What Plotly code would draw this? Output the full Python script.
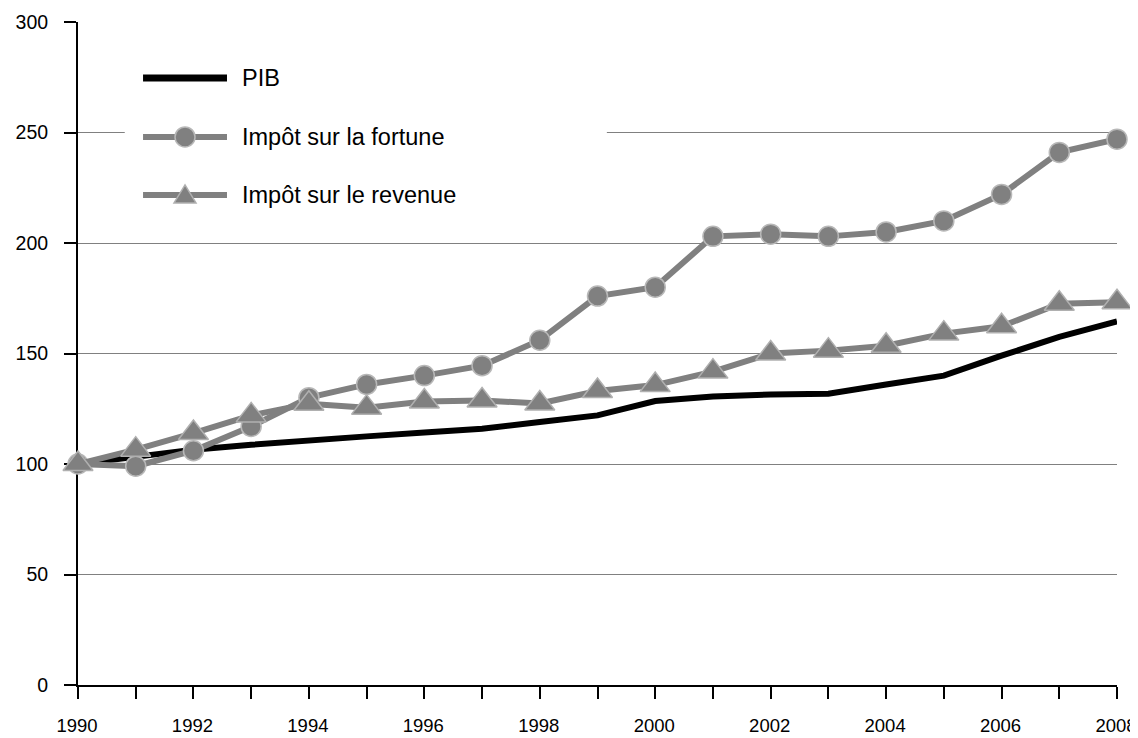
import plotly.graph_objects as go

# ---- data ----
years = list(range(1990, 2009))
year_labels = [str(y) if y % 2 == 0 else "" for y in years]
pib = [100, 103.5, 106.5, 108.7, 110.8, 112.5, 114.3, 116, 119, 122,
       128.5, 130.5, 131.5, 131.8, 136, 140, 149, 157.5, 164.5]
impot_fortune = [100, 99, 106, 117, 130, 136, 140, 144.5, 156, 176,
                 180, 203, 204, 203, 205, 210, 222, 241, 247]
impot_revenu = [100, 106.5, 114, 122, 127.3, 125.5, 128.3, 128.7, 127.4, 133,
                135.7, 141.8, 150, 151.3, 153.5, 159, 162.3, 172.5, 173.2]
y_ticks = [0, 50, 100, 150, 200, 250, 300]
series_names = ["PIB", "Impôt sur la fortune", "Impôt sur le revenue"]

GREY = "#808080"
FONT = "Liberation Sans, Arial, Helvetica, sans-serif"

fig = go.Figure()
fig.add_trace(go.Scatter(x=years, y=pib, name=series_names[0], mode="lines",
                         line=dict(color="black", width=6), cliponaxis=False,
                         showlegend=False))
fig.add_trace(go.Scatter(x=years, y=impot_fortune, name=series_names[1],
                         mode="lines+markers",
                         line=dict(color=GREY, width=6),
                         marker=dict(symbol="circle", size=20, color=GREY,
                                     line=dict(color="#b8b8b8", width=1.5)),
                         cliponaxis=False, showlegend=False))
fig.add_trace(go.Scatter(x=years, y=impot_revenu, name=series_names[2],
                         mode="lines+markers",
                         line=dict(color=GREY, width=6),
                         marker=dict(symbol="triangle-up", size=26, color=GREY,
                                     line=dict(color="#b0b0b0", width=1.5)),
                         cliponaxis=False, showlegend=False))

# ---- legend (drawn as decoration in paper space) ----
shapes = [dict(type="rect", xref="paper", yref="paper", x0=0.045, x1=0.509,
               y0=0.69, y1=0.972, fillcolor="white", line=dict(width=0),
               layer="above")]
annotations = []
row_y = [0.9156, 0.8266, 0.7391]
lx0, lx1, lxm, ltext = 0.0626, 0.1434, 0.1030, 0.1588
for i, name in enumerate(series_names):
    col = "black" if i == 0 else GREY
    shapes.append(dict(type="line", xref="paper", yref="paper",
                       x0=lx0, x1=lx1, y0=row_y[i], y1=row_y[i],
                       line=dict(color=col, width=7 if i == 0 else 6),
                       layer="above"))
    annotations.append(dict(text=name, xref="paper", yref="paper", x=ltext,
                            y=row_y[i], xanchor="left", yanchor="middle",
                            xshift=-3, showarrow=False,
                            font=dict(family=FONT, size=23.5, color="black")))
# circle marker sample
shapes.append(dict(type="circle", xref="paper", yref="paper",
                   xsizemode="pixel", ysizemode="pixel",
                   xanchor=lxm, yanchor=row_y[1],
                   x0=-10, x1=10, y0=-10, y1=10,
                   fillcolor=GREY, line=dict(color="#b8b8b8", width=1.5),
                   layer="above"))
# triangle marker sample
shapes.append(dict(type="path", xref="paper", yref="paper",
                   xsizemode="pixel", ysizemode="pixel",
                   xanchor=lxm, yanchor=row_y[2],
                   path="M -11 -8 L 11 -8 L 0 10 Z",
                   fillcolor=GREY, line=dict(color="#b0b0b0", width=1.5),
                   layer="above"))

# the page body has an 8px margin, so the figure is 8px smaller and
# its margins are offset accordingly
fig.update_layout(
    width=1130, height=730,
    margin=dict(l=70, r=21, t=14, b=53, autoexpand=False),
    paper_bgcolor="white", plot_bgcolor="white",
    font=dict(family=FONT, color="black"),
    showlegend=False,
    shapes=shapes, annotations=annotations,
)
fig.update_xaxes(range=[1990, 2008], tickmode="array", tickvals=years,
                 ticktext=year_labels, ticks="outside", ticklen=12,
                 tickwidth=2, tickcolor="black", showline=True,
                 linecolor="black", linewidth=2, showgrid=False,
                 zeroline=False, tickfont=dict(size=18.5, family=FONT),
                 ticklabelstandoff=11, ticklabelshift=-1,
                 ticklabeloverflow="allow",
                 automargin=False, layer="below traces")
fig.update_yaxes(range=[0, 300], tickmode="array", tickvals=y_ticks,
                 ticks="outside", ticklen=12, tickwidth=2, tickcolor="black",
                 showline=True, linecolor="black", linewidth=2,
                 showgrid=True, gridcolor=GREY, gridwidth=1, zeroline=False,
                 tickfont=dict(size=19.5, family=FONT),
                 ticklabelstandoff=12, automargin=False, layer="below traces")

fig.write_html("out.html")
